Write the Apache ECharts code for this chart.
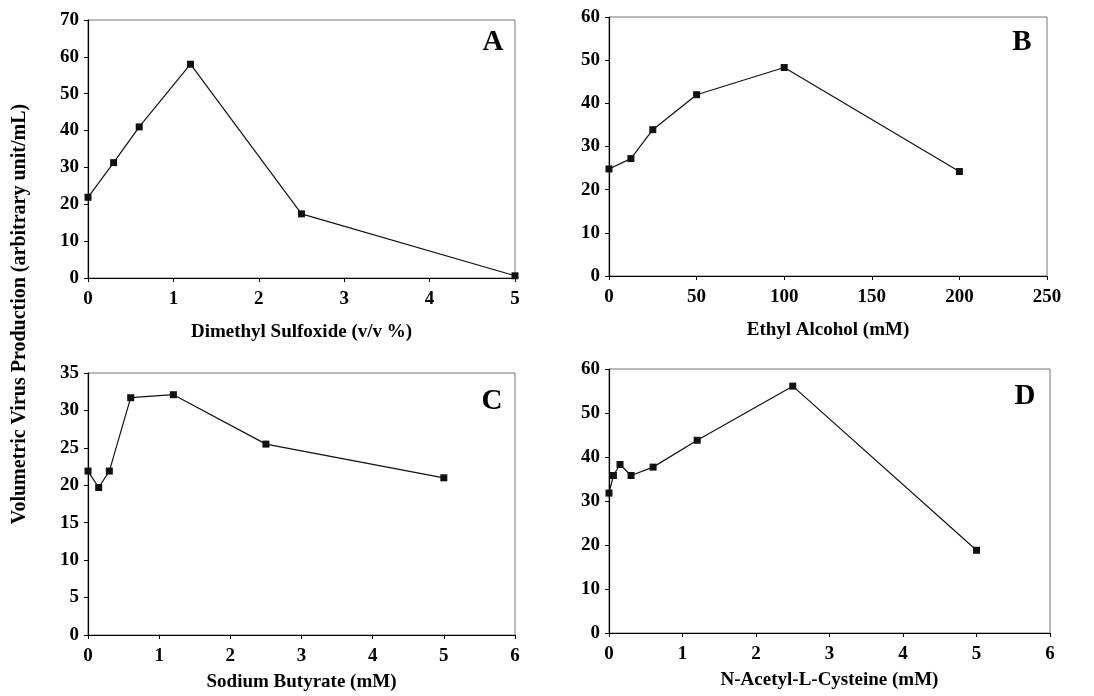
<!DOCTYPE html>
<html>
<head>
<meta charset="utf-8">
<script src="https://cdn.jsdelivr.net/npm/echarts@6/dist/echarts.min.js"></script>
<style>
  html, body { margin: 0; padding: 0; background: #fff; }
  #main { width: 1094px; height: 696px; }
</style>
</head>
<body>
<div id="main"></div>
<script>
// panel A - DMSO
var dmsoX = [0, 0.3, 0.6, 1.2, 2.5, 5];
var dmsoY = [21.9, 31.3, 41, 58, 17.4, 0.6];
// panel B - ethanol
var ethX = [0, 12.5, 25, 50, 100, 200];
var ethY = [24.8, 27.2, 33.9, 42, 48.3, 24.2];
// panel C - sodium butyrate
var butX = [0, 0.15, 0.3, 0.6, 1.2, 2.5, 5];
var butY = [21.9, 19.7, 21.9, 31.7, 32.1, 25.5, 21];
// panel D - NAC
var nacX = [0, 0.06, 0.15, 0.3, 0.6, 1.2, 2.5, 5];
var nacY = [31.8, 35.8, 38.3, 35.8, 37.7, 43.8, 56.1, 18.8];

var xNames = ['Dimethyl Sulfoxide (v/v %)', 'Ethyl Alcohol (mM)', 'Sodium Butyrate (mM)', 'N-Acetyl-L-Cysteine (mM)'];
var panelLetters = ['A', 'B', 'C', 'D'];
var yTitle = 'Volumetric Virus Production (arbitrary unit/mL)';

var FONT = '"Liberation Serif", "Times New Roman", serif';

function pairs(xs, ys) {
  return xs.map(function (x, i) { return [x, ys[i]]; });
}

var grids = [
  { left: 88, top: 20, width: 427, height: 258 },
  { left: 609, top: 17, width: 438, height: 259 },
  { left: 88, top: 373, width: 427, height: 262 },
  { left: 609, top: 369, width: 441, height: 264 }
];

var xRanges = [[0, 5, 1], [0, 250, 50], [0, 6, 1], [0, 6, 1]];
var yRanges = [[0, 70, 10], [0, 60, 10], [0, 35, 5], [0, 60, 10]];
var nameGaps = [45, 45, 38, 38];

var labelStyle = { color: '#000', fontFamily: FONT, fontWeight: 'bold', fontSize: 19 };

var xAxes = xRanges.map(function (r, i) {
  return {
    type: 'value', gridIndex: i, min: r[0], max: r[1], interval: r[2],
    name: xNames[i], nameLocation: 'middle', nameGap: nameGaps[i],
    nameTextStyle: { color: '#000', fontFamily: FONT, fontWeight: 'bold', fontSize: 19 },
    axisLine: { onZero: false, lineStyle: { color: '#000', width: 1.2 } },
    axisTick: { show: true, length: 4, lineStyle: { color: '#000' } },
    axisLabel: Object.assign({ margin: 12 }, labelStyle),
    splitLine: { show: false }
  };
});

var yAxes = yRanges.map(function (r, i) {
  return {
    type: 'value', gridIndex: i, min: r[0], max: r[1], interval: r[2],
    axisLine: { show: true, lineStyle: { color: '#000', width: 1.2 } },
    axisTick: { show: true, length: 4, lineStyle: { color: '#000' } },
    axisLabel: Object.assign({ margin: 9 }, labelStyle),
    splitLine: { show: false }
  };
});

var allData = [pairs(dmsoX, dmsoY), pairs(ethX, ethY), pairs(butX, butY), pairs(nacX, nacY)];

var series = allData.map(function (d, i) {
  return {
    type: 'line', xAxisIndex: i, yAxisIndex: i, data: d,
    symbol: 'rect', symbolSize: 7,
    lineStyle: { color: '#111', width: 1.2 },
    itemStyle: { color: '#111' },
    animation: false
  };
});

var letterPos = [[493, 43], [1022, 43], [492, 402], [1025, 397]];

var graphics = letterPos.map(function (p, i) {
  return {
    type: 'text', x: p[0], y: p[1],
    style: {
      text: panelLetters[i], fill: '#000', font: 'bold 29px ' + FONT,
      align: 'center', verticalAlign: 'middle'
    }
  };
});
graphics.push({
  type: 'text', x: 20, y: 314, rotation: Math.PI / 2,
  style: {
    text: yTitle, fill: '#000', font: 'bold 20px ' + FONT,
    align: 'center', verticalAlign: 'middle'
  }
});

var myChart = echarts.init(document.getElementById('main'));
myChart.setOption({
  animation: false,
  grid: grids.map(function (g) {
    return Object.assign({ show: true, borderColor: '#777', borderWidth: 1, backgroundColor: 'transparent' }, g);
  }),
  xAxis: xAxes,
  yAxis: yAxes,
  series: series,
  graphic: graphics
});
</script>
</body>
</html>
